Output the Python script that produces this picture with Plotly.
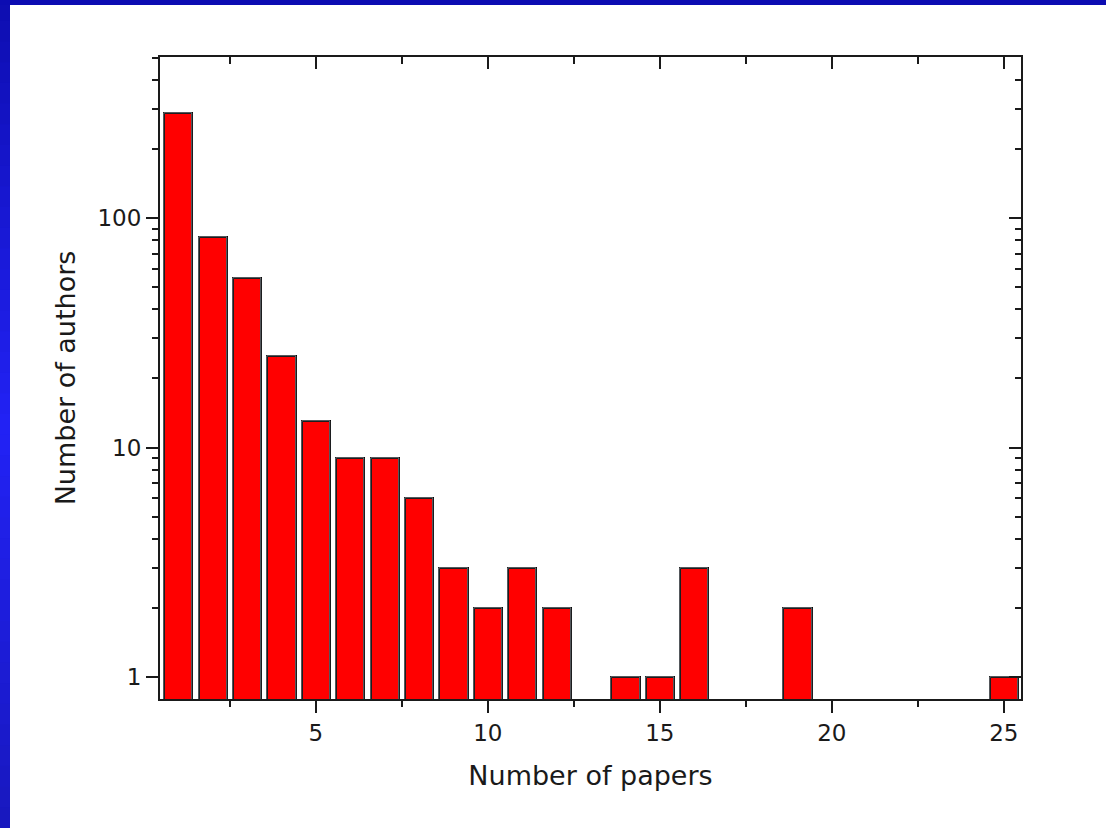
import plotly.graph_objects as go

papers = [1, 2, 3, 4, 5, 6, 7, 8, 9, 10, 11, 12, 14, 15, 16, 19, 25]
authors = [288, 83, 55, 25, 13, 9, 9, 6, 3, 2, 3, 2, 1, 1, 3, 2, 1]

x_tickvals = [5, 10, 15, 20, 25]
x_minor = [2.5, 7.5, 12.5, 17.5, 22.5]
y_tickvals = [1, 10, 100]
y_minor = [2, 3, 4, 5, 6, 7, 8, 9, 20, 30, 40, 50, 60, 70, 80, 90, 200, 300, 400, 500]

W, H = 1106, 828
L, R, T, B = 160, 85, 57, 129
pw, ph = W - L - R, H - T - B

x_range = [0.47, 25.5]
y_range = [-0.096, 2.702]

font_family = "DejaVu Sans, Arial, sans-serif"
ink = "#1a1a1a"

fig = go.Figure()
fig.add_trace(go.Bar(
    x=papers, y=authors, width=0.82,
    marker=dict(color="#ff0000", line=dict(color="#000000", width=2)),
    hoverinfo="x+y",
))
# invisible copy to anchor the mirrored (top/right) axes
fig.add_trace(go.Bar(
    x=papers, y=authors, width=0.82, xaxis="x2", yaxis="y2",
    marker=dict(color="rgba(0,0,0,0)"), hoverinfo="skip", showlegend=False,
))


def px_x(p):
    return (p - L) / pw


def px_y(p):
    return (H - B - p) / ph


def lerp(c1, c2, t):
    return "rgb(%d,%d,%d)" % tuple(round(a + (b - a) * t) for a, b in zip(c1, c2))


shapes = []
# left gradient band
stops = [(0, (14, 14, 176)), (430, (34, 34, 245)), (828, (24, 24, 190))]
n = 40
for i in range(n):
    y0p = H * i / n
    y1p = H * (i + 1) / n
    ym = (y0p + y1p) / 2
    for (a, ca), (b, cb) in zip(stops[:-1], stops[1:]):
        if a <= ym <= b:
            col = lerp(ca, cb, (ym - a) / (b - a))
    shapes.append(dict(type="rect", xref="paper", yref="paper",
                       x0=px_x(0), x1=px_x(10), y0=px_y(y1p + 1.5), y1=px_y(y0p),
                       fillcolor=col, line=dict(width=0), layer="above"))
# top band
shapes.append(dict(type="rect", xref="paper", yref="paper",
                   x0=px_x(0), x1=px_x(W), y0=px_y(5), y1=px_y(0),
                   fillcolor="rgb(12,12,178)", line=dict(width=0), layer="above"))

fig.update_layout(
    width=W, height=H,
    margin=dict(l=L, r=R, t=T, b=B, pad=0),
    paper_bgcolor="white", plot_bgcolor="white",
    font=dict(family=font_family, color=ink, size=23),
    showlegend=False,
    bargap=0,
    shapes=shapes,
    xaxis=dict(
        range=x_range, tickmode="array", tickvals=x_tickvals,
        ticks="outside", ticklen=12, tickwidth=2, tickcolor=ink,
        minor=dict(tickmode="array", tickvals=x_minor, ticks="outside", ticklen=6, tickwidth=2, tickcolor=ink),
        showline=True, linecolor=ink, linewidth=2, showgrid=False, zeroline=False,
        tickfont=dict(size=23),
        title=dict(text="Number of papers", font=dict(size=27), standoff=22),
    ),
    yaxis=dict(
        type="log", range=y_range, tickmode="array", tickvals=y_tickvals,
        ticktext=[str(v) for v in y_tickvals],
        ticks="outside", ticklen=12, tickwidth=2, tickcolor=ink,
        minor=dict(tickmode="array", tickvals=y_minor, ticks="outside", ticklen=6, tickwidth=2, tickcolor=ink),
        showline=True, linecolor=ink, linewidth=2, showgrid=False, zeroline=False,
        tickfont=dict(size=23),
        title=dict(text="Number of authors", font=dict(size=27), standoff=14),
    ),
    xaxis2=dict(
        overlaying="x", side="top", anchor="y2", range=x_range,
        tickmode="array", tickvals=x_tickvals, showticklabels=False,
        ticks="inside", ticklen=12, tickwidth=2, tickcolor=ink,
        minor=dict(tickmode="array", tickvals=x_minor, ticks="inside", ticklen=7, tickwidth=2, tickcolor=ink),
        showline=True, linecolor=ink, linewidth=2, showgrid=False, zeroline=False,
    ),
    yaxis2=dict(
        overlaying="y", side="right", anchor="x2", type="log", range=y_range,
        tickmode="array", tickvals=y_tickvals, showticklabels=False,
        ticks="inside", ticklen=12, tickwidth=2, tickcolor=ink,
        minor=dict(tickmode="array", tickvals=y_minor, ticks="inside", ticklen=6, tickwidth=2, tickcolor=ink),
        showline=True, linecolor=ink, linewidth=2, showgrid=False, zeroline=False,
    ),
)

fig.write_html(
    "out.html",
    config={"displayModeBar": False},
    post_script="document.body.style.margin='0';document.body.style.padding='0';",
)
